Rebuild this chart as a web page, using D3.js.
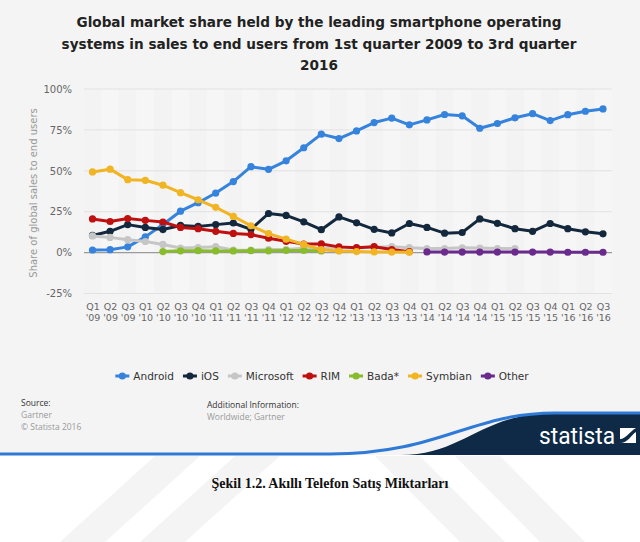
<!DOCTYPE html>
<html><head><meta charset="utf-8">
<script src="https://cdn.jsdelivr.net/npm/d3@7"></script>
<style>
html,body{margin:0;padding:0;background:#fff;}
svg{display:block;}
</style></head>
<body><svg id="c" width="640" height="542"></svg>
<script>
const quarters = ["Q1 '09","Q2 '09","Q3 '09","Q1 '10","Q2 '10","Q3 '10","Q4 '10","Q1 '11","Q2 '11","Q3 '11","Q4 '11","Q1 '12","Q2 '12","Q3 '12","Q4 '12","Q1 '13","Q2 '13","Q3 '13","Q4 '13","Q1 '14","Q2 '14","Q3 '14","Q4 '14","Q1 '15","Q2 '15","Q3 '15","Q4 '15","Q1 '16","Q2 '16","Q3 '16"];
const android   = [1.6,1.8,3.5,9.6,17.2,25.3,30.5,36.4,43.4,52.5,50.9,56.1,64.1,72.4,69.7,74.4,79.5,82.2,78.1,81.1,84.4,83.6,76.0,78.9,82.4,84.9,80.7,84.3,86.4,87.8];
const ios       = [10.5,13.0,17.1,15.4,14.1,16.6,16.0,17.1,18.1,14.2,23.9,22.7,18.8,14.0,21.8,18.2,14.2,12.0,17.8,15.4,11.9,12.3,20.6,17.9,14.6,13.0,17.8,14.6,12.7,11.5];
const microsoft = [10.2,9.3,7.9,6.8,5.0,2.8,3.1,3.6,1.6,1.5,1.9,1.9,2.6,2.4,3.0,2.9,3.3,3.6,3.0,2.5,2.5,2.9,2.8,2.5,2.5,null,null,null,null,null];
const rim       = [20.6,19.0,20.8,19.7,18.7,15.4,14.6,13.0,11.7,11.0,8.8,6.9,5.2,5.3,3.5,3.0,3.6,1.9,0.6,null,null,null,null,null,null,null,null,null,null,null];
const bada      = [null,null,null,null,0.6,1.1,1.2,1.0,1.0,1.2,1.1,1.3,1.3,1.0,null,null,null,null,null,null,null,null,null,null,null,null,null,null,null,null];
const symbian   = [49.3,51.0,44.6,44.2,41.2,36.6,32.3,27.7,22.1,16.4,11.6,8.2,5.0,1.8,1.0,0.6,0.4,0.3,0.2,null,null,null,null,null,null,null,null,null,null,null];
const other     = [null,null,null,null,null,null,null,null,null,null,null,null,null,null,null,null,null,null,null,0.4,0.3,0.3,0.3,0.3,0.3,0.3,0.3,0.2,0.2,0.2];
const seriesNames = ["Android","iOS","Microsoft","RIM","Bada*","Symbian","Other"];
const seriesColors = ["#3583dc","#14283d","#c6c6c6","#bf1010","#88bc2c","#f1b423","#6a2b8c"];
const yTicks = [-25,0,25,50,75,100];
const titleLines = ["Global market share held by the leading smartphone operating","systems in sales to end users from 1st quarter 2009 to 3rd quarter","2016"];

const seriesValues = [android, ios, microsoft, rim, bada, symbian, other];
const svg = d3.select("#c");

// watermark on white area
const wm = svg.append("g").attr("fill","#f4f4f4");
[[60,542,105,542,200,456,155,456],[140,542,185,542,280,456,235,456],
 [375,456,420,456,505,542,460,542],[455,456,500,456,585,542,540,542]].forEach(p=>{
  wm.append("polygon").attr("points",[[p[0],p[1]],[p[2],p[3]],[p[4],p[5]],[p[6],p[7]]].map(d=>d.join(",")).join(" "));
});

// panel background
svg.append("rect").attr("x",0).attr("y",0).attr("width",640).attr("height",455).attr("fill","#f4f4f4");

// title
const title = svg.append("text").attr("text-anchor","middle").attr("font-family","DejaVu Sans").attr("font-weight","bold").attr("font-size",13.6).attr("fill","#222");
titleLines.forEach((t,i)=> title.append("tspan").attr("x",319).attr("y",27+i*21.5).text(t));

// scales
const x = d3.scalePoint().domain(quarters).range([92.5,603]);
const y = d3.scaleLinear().domain([-25,100]).range([293.5,89]);
const step = x.step();

// alternating faint stripes
const plot = svg.append("g");
plot.selectAll("rect.band").data(quarters).join("rect")
  .attr("x",d=>x(d)-step/2).attr("y",89).attr("width",step).attr("height",293.5-89)
  .attr("fill",(d,i)=> i%2? "#f6f6f6":"#f3f3f3");

// gridlines
plot.selectAll("line.grid").data(yTicks).join("line")
  .attr("x1",84).attr("x2",612).attr("y1",d=>y(d)).attr("y2",d=>y(d))
  .attr("stroke",d=> d===0 ? "#9a9a9a" : "#e2e2e2").attr("stroke-width",d=>d===0?1.2:1);

// y axis labels
const yAxis = d3.axisLeft(y).tickValues(yTicks).tickFormat(d=>d+"%").tickSize(0).tickPadding(0);
const ya = svg.append("g").attr("transform","translate(72,0)").call(yAxis);
ya.select(".domain").remove();
ya.selectAll("text").attr("font-family","DejaVu Sans").attr("font-size",10).attr("fill","#666");

svg.append("text").attr("transform","translate(37,193) rotate(-90)").attr("text-anchor","middle")
  .attr("font-family","DejaVu Sans").attr("font-size",10).attr("fill","#999").text("Share of global sales to end users");

// x axis labels (two lines)
const xAxis = d3.axisBottom(x).tickSize(0).tickFormat("");
const xa = svg.append("g").attr("transform","translate(0,299)").call(xAxis);
xa.select(".domain").remove();
xa.selectAll(".tick").each(function(d){
  const parts = d.split(" ");
  const t = d3.select(this).append("text").attr("text-anchor","middle").attr("font-family","DejaVu Sans").attr("font-size",9.5).attr("fill","#666");
  t.append("tspan").attr("x",0).attr("y",11).text(parts[0]);
  t.append("tspan").attr("x",0).attr("y",22).text(parts[1]);
});

// lines
const line = d3.line().defined(d=>d.v!=null).x(d=>x(d.q)).y(d=>y(d.v));
seriesValues.forEach((vals,si)=>{
  const data = vals.map((v,i)=>({q:quarters[i],v}));
  const g = svg.append("g");
  g.append("path").datum(data).attr("d",line).attr("fill","none").attr("stroke",seriesColors[si]).attr("stroke-width",3).attr("stroke-linejoin","round");
  g.selectAll("circle").data(data.filter(d=>d.v!=null)).join("circle")
    .attr("cx",d=>x(d.q)).attr("cy",d=>y(d.v)).attr("r",3.6).attr("fill",seriesColors[si]);
});

// legend
const leg = svg.append("g");
let lx = 0;
seriesNames.forEach((n,i)=>{
  const g = leg.append("g");
  g.append("line").attr("x1",0).attr("x2",14).attr("y1",0).attr("y2",0).attr("stroke",seriesColors[i]).attr("stroke-width",3);
  g.append("circle").attr("cx",7).attr("cy",0).attr("r",3.6).attr("fill",seriesColors[i]);
  const t = g.append("text").attr("x",18).attr("y",4).attr("font-family","DejaVu Sans").attr("font-size",10.5).attr("fill","#333").text(n);
  const w = 18 + t.node().getComputedTextLength();
  g.attr("transform",`translate(${lx},376)`);
  lx += w + 9;
});
const totalW = lx - 9;
leg.attr("transform",`translate(${322-totalW/2},0)`);

// footer
const foot = svg.append("g").attr("font-family","Open Sans").attr("font-size",8.5);
foot.append("text").attr("x",21).attr("y",406).attr("fill","#333").text("Source:");
foot.append("text").attr("x",21).attr("y",418).attr("fill","#999").text("Gartner");
foot.append("text").attr("x",21).attr("y",430).attr("fill","#999").text("© Statista 2016");
foot.append("text").attr("x",207).attr("y",408).attr("fill","#333").text("Additional Information:");
foot.append("text").attr("x",207).attr("y",420).attr("fill","#999").text("Worldwide; Gartner");

// statista band
svg.append("path").attr("d","M400,455 C 465,455 480,413 555,413 L640,413 L640,455 Z").attr("fill","#0e2a47");
svg.append("path").attr("d","M0,454 L330,454 C 440,454 470,413 555,413 L640,413").attr("fill","none").attr("stroke","#2f7ad6").attr("stroke-width",3);
svg.append("text").attr("x",539).attr("y",444).attr("font-family","Liberation Sans Narrow, Roboto, sans-serif").attr("font-size",23).attr("fill","#fff").attr("textLength",76).attr("lengthAdjust","spacingAndGlyphs").text("statista");
svg.append("rect").attr("x",620).attr("y",428).attr("width",16).attr("height",15).attr("fill","#fff");
svg.append("path").attr("d","M620,443 L620,439 C626,439 629,432 636,428 L636,432 C631,435 628,443 620,443 Z").attr("fill","#0e2a47");

// caption
svg.append("text").attr("x",330).attr("y",488).attr("text-anchor","middle").attr("font-family","Liberation Serif").attr("font-weight","bold").attr("font-size",14).attr("fill","#111").text("Şekil 1.2. Akıllı Telefon Satış Miktarları");
</script></body></html>
